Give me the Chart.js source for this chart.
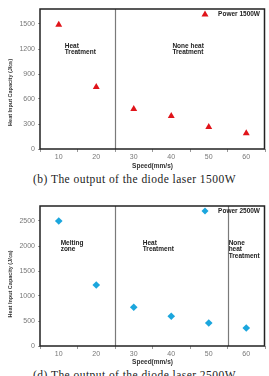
<!DOCTYPE html>
<html>
<head>
<meta charset="utf-8">
<script src="https://cdn.jsdelivr.net/npm/chart.js@4.4.0/dist/chart.umd.min.js"></script>
<style>
  body { margin: 0; width: 269px; height: 376px; overflow: hidden; background: #fff; position: relative; }
  .box { position: absolute; left: 0; width: 269px; }
  .caption { position: absolute; left: 0; width: 269px; text-align: center; font-family: "Liberation Serif", "DejaVu Serif", serif; font-size: 11.5px; color: #222; letter-spacing: 0.45px; white-space: nowrap; }
</style>
</head>
<body>
<div class="box" style="top:0; height:170px;"><canvas id="chart1"></canvas></div>
<div class="caption" style="top:173px;">(b) The output of the diode laser 1500W</div>
<div class="box" style="top:188px; height:178px;"><canvas id="chart2"></canvas></div>
<div class="caption" style="top:369px;">(d) The output of the diode laser 2500W</div>
<script>
// Datos
const speeds = ['10', '20', '30', '40', '50', '60'];
const heat1500 = [1490, 745, 480, 395, 265, 190];
const heat2500 = [2500, 1220, 775, 595, 460, 360];
const yTicks1500 = [0, 300, 600, 900, 1200, 1500];
const yTicks2500 = [0, 500, 1000, 1500, 2000, 2500];
const zones1500 = [['Heat', 'Treatment'], ['None heat', 'Treatment']];
const zones2500 = [['Melting', 'zone'], ['Heat', 'Treatment'], ['None', 'heat', 'Treatment']];

const sans = '"Liberation Sans", Arial, sans-serif';

// Plugin para marco, separadores, textos de zona, título Y y leyenda
const decorPlugin = {
    id: 'decor',
    afterDraw(chart, args, opts) {
        const ctx = chart.ctx;
        const a = chart.chartArea;
        const xs = chart.scales.x;
        const ys = chart.scales.y;
        ctx.save();

        // líneas verticales entre zonas
        ctx.strokeStyle = '#7a7a7a';
        ctx.lineWidth = 1.2;
        opts.dividers.forEach(d => {
            const px = Math.round(xs.getPixelForValue(d)) + 0.5;
            ctx.beginPath();
            ctx.moveTo(px, a.top);
            ctx.lineTo(px, a.bottom);
            ctx.stroke();
        });

        // marco
        ctx.strokeStyle = '#222';
        ctx.lineWidth = 1.5;
        ctx.strokeRect(a.left, a.top, a.right - a.left - 0.5, a.bottom - a.top);

        // textos de zonas
        ctx.fillStyle = '#222';
        ctx.font = 'bold 6.5px ' + sans;
        ctx.textAlign = 'left';
        ctx.textBaseline = 'middle';
        opts.zones.forEach((lines, i) => {
            const px = xs.getPixelForValue(opts.zoneX[i]);
            const py = ys.getPixelForValue(opts.zoneY);
            lines.forEach((t, j) => ctx.fillText(t, px, py + j * 6.5));
        });

        // título del eje Y (algo desplazado hacia abajo como en el original)
        ctx.save();
        ctx.translate(10, ys.getPixelForValue(opts.titleY));
        ctx.rotate(-Math.PI / 2);
        ctx.textAlign = 'center';
        ctx.fillStyle = '#333';
        ctx.font = 'bold 5.5px ' + sans;
        ctx.fillText('Heat Input Capacity (J/㎝)', 0, 0);
        ctx.restore();

        // leyenda
        const ly = a.top + 5;
        ctx.font = 'bold 6.5px ' + sans;
        ctx.textAlign = 'right';
        ctx.fillStyle = '#222';
        ctx.fillText(opts.legend, a.right - 5, ly);
        ctx.fillStyle = opts.color;
        const mx = a.right - 60;
        ctx.beginPath();
        if (opts.marker === 'triangle') {
            ctx.moveTo(mx, ly - 3.5);
            ctx.lineTo(mx + 3.5, ly + 2.5);
            ctx.lineTo(mx - 3.5, ly + 2.5);
        } else {
            ctx.moveTo(mx, ly - 3.5);
            ctx.lineTo(mx + 3.5, ly);
            ctx.lineTo(mx, ly + 3.5);
            ctx.lineTo(mx - 3.5, ly);
        }
        ctx.closePath();
        ctx.fill();
        ctx.restore();
    }
};

function buildChart(id, values, opts) {
    const ctx = document.getElementById(id).getContext('2d');
    return new Chart(ctx, {
        type: 'line',
        data: {
            labels: speeds,
            datasets: [{
                data: values,
                showLine: false,
                pointStyle: opts.marker,
                pointRadius: opts.marker === 'triangle' ? 4 : 3.8,
                backgroundColor: opts.color,
                borderColor: opts.color,
                borderWidth: 0
            }]
        },
        options: {
            responsive: true,
            maintainAspectRatio: false,
            animation: false,
            layout: { padding: { top: opts.padTop, right: 1, left: 0, bottom: 0 } },
            plugins: {
                legend: { display: false },
                tooltip: { enabled: false },
                decor: opts
            },
            scales: {
                x: {
                    offset: true,
                    grid: { offset: true, drawOnChartArea: false, drawTicks: true, tickLength: 3, color: '#999' },
                    border: { display: false },
                    ticks: { color: '#777', font: { size: 7, family: sans }, padding: 1, maxRotation: 0 },
                    title: { display: true, text: 'Speed(mm/s)', color: '#333', font: { size: 6.5, weight: 'bold', family: sans }, padding: { top: 1, bottom: 0 } },
                    afterFit: s => { s.height = opts.xHeight; }
                },
                y: {
                    min: 0,
                    max: opts.yMax,
                    grid: { drawOnChartArea: false, drawTicks: true, tickLength: 2, color: '#999' },
                    border: { display: false },
                    afterBuildTicks: s => { s.ticks = opts.yTicks.map(v => ({ value: v })); },
                    ticks: { color: '#777', font: { size: 7, family: sans }, padding: 3, callback: v => String(v) },
                    afterFit: s => { s.width = 40; }
                }
            }
        },
        plugins: [decorPlugin]
    });
}

buildChart('chart1', heat1500, {
    color: '#e0141a', marker: 'triangle', legend: 'Power 1500W',
    yMax: 1680, yTicks: yTicks1500, padTop: 9, xHeight: 21, titleY: 680,
    dividers: [1.5], zones: zones1500, zoneX: [0.16, 3.03], zoneY: 1236
});

buildChart('chart2', heat2500, {
    color: '#1ba6dd', marker: 'rectRot', legend: 'Power 2500W',
    yMax: 2800, yTicks: yTicks2500, padTop: 18, xHeight: 20, titleY: 1240,
    dividers: [1.5, 4.5], zones: zones2500, zoneX: [0.05, 2.24, 4.53], zoneY: 2060
});
</script>
</body>
</html>
